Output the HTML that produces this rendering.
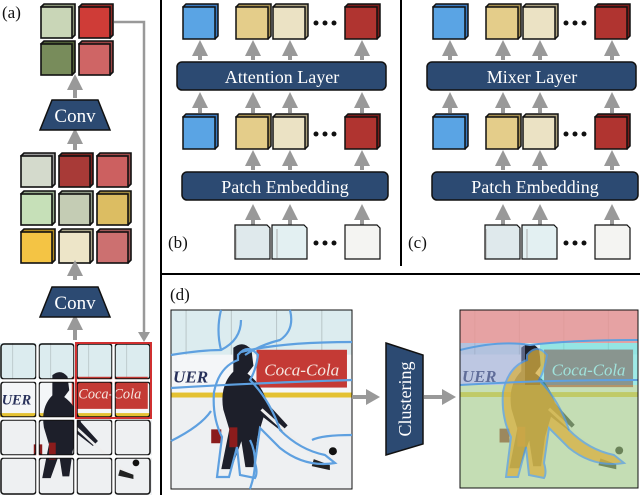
<!DOCTYPE html>
<html><head><style>body{margin:0;background:#fff}svg{display:block}text{font-family:"Liberation Serif",serif}</style></head><body>
<svg width="640" height="495" viewBox="0 0 640 495" xmlns="http://www.w3.org/2000/svg">
<defs>
<marker id="ah" markerWidth="4" markerHeight="4" refX="2" refY="2" orient="auto" markerUnits="strokeWidth"><path d="M0,0 L4,2 L0,4z" fill="#999"/></marker>
<g id="photo">
<rect x="0" y="0" width="180" height="180" fill="#e8f2f4"/>
<rect x="0" y="0" width="180" height="45" fill="#dcecef"/>
<g stroke="#b9c6c8" stroke-width="1"><line x1="15" y1="0" x2="15" y2="45"/><line x1="60" y1="0" x2="60" y2="45"/><line x1="105" y1="0" x2="105" y2="45"/><line x1="150" y1="0" x2="150" y2="45"/></g>
<rect x="0" y="45" width="180" height="40" fill="#f4f6f8"/>
<rect x="85" y="40" width="90" height="38" fill="#c43a35"/>
<text x="130" y="66" font-size="17" font-style="italic" fill="#f5e6e0" text-anchor="middle">Coca-Cola</text>
<text x="2" y="73" font-size="17" font-weight="bold" font-style="italic" fill="#27305a">UER</text>
<rect x="0" y="83" width="180" height="5" fill="#e4c132"/>
<rect x="0" y="88" width="180" height="92" fill="#eef0f2"/>
<path d="M62,38 q10,-8 18,2 l2,16 l-6,8 q14,10 20,30 l20,22 l-6,6 l-18,-14 l-6,20 l-4,30 l-8,0 l-4,-26 l-10,28 l-10,0 l8,-40 l-6,-20 q-4,-24 10,-38z" fill="#1d1f2a"/>
<path d="M40,120 l10,0 l0,14 l-10,0z M58,118 l8,0 l0,20 l-8,0z" fill="#8b1c1c"/>
<line x1="90" y1="100" x2="150" y2="155" stroke="#eee" stroke-width="3"/>
<path d="M142,150 l16,6 l0,5 l-18,-4z" fill="#222"/>
<circle cx="161" cy="142" r="4" fill="#111"/>
</g>
</defs>

<line x1="161" y1="0" x2="161" y2="495" stroke="#000" stroke-width="2"/>
<line x1="401" y1="0" x2="401" y2="266" stroke="#000" stroke-width="2"/>
<line x1="161" y1="274" x2="640" y2="274" stroke="#000" stroke-width="2"/>

<g font-size="17" fill="#111">
<text x="2" y="18">(a)</text>
<text x="168" y="248">(b)</text>
<text x="408" y="248">(c)</text>
<text x="170" y="300">(d)</text>
</g>

<g stroke="#111" stroke-width="1.6">
<g transform="translate(41,4)"><path d="M0,3 l3,-3 h31 v31 l-3,3z" fill="#8a9478"/><rect x="0" y="3" width="31" height="31" fill="#c9d6b7"/></g>
<g transform="translate(79,4)"><path d="M0,3 l3,-3 h31 v31 l-3,3z" fill="#8e2a26"/><rect x="0" y="3" width="31" height="31" fill="#cf3c37"/></g>
<g transform="translate(41,41)"><path d="M0,3 l3,-3 h31 v31 l-3,3z" fill="#4e5e37"/><rect x="0" y="3" width="31" height="31" fill="#788c5b"/></g>
<g transform="translate(79,41)"><path d="M0,3 l3,-3 h31 v31 l-3,3z" fill="#9a4444"/><rect x="0" y="3" width="31" height="31" fill="#cf6565"/></g>
<g transform="translate(21,153)"><path d="M0,3 l3,-3 h31 v31 l-3,3z" fill="#999"/><rect x="0" y="3" width="31" height="31" fill="#d4dacc"/></g>
<g transform="translate(59,153)"><path d="M0,3 l3,-3 h31 v31 l-3,3z" fill="#7a2420"/><rect x="0" y="3" width="31" height="31" fill="#a83a37"/></g>
<g transform="translate(97,153)"><path d="M0,3 l3,-3 h31 v31 l-3,3z" fill="#a04a4a"/><rect x="0" y="3" width="31" height="31" fill="#cc6060"/></g>
<g transform="translate(21,191)"><path d="M0,3 l3,-3 h31 v31 l-3,3z" fill="#94a88a"/><rect x="0" y="3" width="31" height="31" fill="#c6e0b8"/></g>
<g transform="translate(59,191)"><path d="M0,3 l3,-3 h31 v31 l-3,3z" fill="#909a88"/><rect x="0" y="3" width="31" height="31" fill="#c4ccb4"/></g>
<g transform="translate(97,191)"><path d="M0,3 l3,-3 h31 v31 l-3,3z" fill="#a08a40"/><rect x="0" y="3" width="31" height="31" fill="#dcbd62"/></g>
<g transform="translate(21,229)"><path d="M0,3 l3,-3 h31 v31 l-3,3z" fill="#b08a20"/><rect x="0" y="3" width="31" height="31" fill="#f4c444"/></g>
<g transform="translate(59,229)"><path d="M0,3 l3,-3 h31 v31 l-3,3z" fill="#aaa68a"/><rect x="0" y="3" width="31" height="31" fill="#ede5c8"/></g>
<g transform="translate(97,229)"><path d="M0,3 l3,-3 h31 v31 l-3,3z" fill="#a05858"/><rect x="0" y="3" width="31" height="31" fill="#cc7070"/></g>
</g>

<g stroke="#999" stroke-width="4" fill="none">
<line x1="75" y1="98" x2="75" y2="82" marker-end="url(#ah)"/>
<line x1="75" y1="150" x2="75" y2="136" marker-end="url(#ah)"/>
<line x1="75" y1="280" x2="75" y2="268" marker-end="url(#ah)"/>
<line x1="75" y1="340" x2="75" y2="322" marker-end="url(#ah)"/>
</g>
<polyline points="114,22 144,22 144,334" stroke="#999" stroke-width="2.5" fill="none"/>
<path d="M138,332 L150,332 L144,342z" fill="#999"/>
<g fill="#2c4a72" stroke="#111" stroke-width="1.5">
<path d="M52,100 L98,100 L110,130 L40,130z"/>
<path d="M52,287 L98,287 L110,317 L40,317z"/>
</g>
<g font-size="19" fill="#fff" text-anchor="middle"><text x="75" y="122">Conv</text><text x="75" y="309">Conv</text></g>

<svg x="0" y="343" width="152" height="152" viewBox="0 0 180 180" preserveAspectRatio="none"><use href="#photo"/></svg>
<g fill="none" stroke="#111" stroke-width="1.5">
<rect x="1" y="344" width="35" height="35" rx="3"/><rect x="39" y="344" width="35" height="35" rx="3"/><rect x="77" y="344" width="35" height="35" rx="3"/><rect x="115" y="344" width="35" height="35" rx="3"/>
<rect x="1" y="382" width="35" height="35" rx="3"/><rect x="39" y="382" width="35" height="35" rx="3"/><rect x="77" y="382" width="35" height="35" rx="3"/><rect x="115" y="382" width="35" height="35" rx="3"/>
<rect x="1" y="420" width="35" height="35" rx="3"/><rect x="39" y="420" width="35" height="35" rx="3"/><rect x="77" y="420" width="35" height="35" rx="3"/><rect x="115" y="420" width="35" height="35" rx="3"/>
<rect x="1" y="458" width="35" height="36" rx="3"/><rect x="39" y="458" width="35" height="36" rx="3"/><rect x="77" y="458" width="35" height="36" rx="3"/><rect x="115" y="458" width="35" height="36" rx="3"/>
</g>
<g stroke="#fff" stroke-width="2.5"><line x1="37.5" y1="343" x2="37.5" y2="495"/><line x1="75.5" y1="343" x2="75.5" y2="495"/><line x1="113.5" y1="343" x2="113.5" y2="495"/><line x1="0" y1="380.5" x2="152" y2="380.5"/><line x1="0" y1="418.5" x2="152" y2="418.5"/><line x1="0" y1="456.5" x2="152" y2="456.5"/></g>
<rect x="76" y="343" width="75" height="75" fill="none" stroke="#d03030" stroke-width="2"/>

<g id="pb">
<g stroke="#999" stroke-width="4">
<line x1="200" y1="60" x2="200" y2="48" marker-end="url(#ah)"/><line x1="253" y1="60" x2="253" y2="48" marker-end="url(#ah)"/><line x1="290" y1="60" x2="290" y2="48" marker-end="url(#ah)"/><line x1="362" y1="60" x2="362" y2="48" marker-end="url(#ah)"/>
<line x1="200" y1="113" x2="200" y2="100" marker-end="url(#ah)"/><line x1="253" y1="113" x2="253" y2="100" marker-end="url(#ah)"/><line x1="290" y1="113" x2="290" y2="100" marker-end="url(#ah)"/><line x1="362" y1="113" x2="362" y2="100" marker-end="url(#ah)"/>
<line x1="253" y1="170" x2="253" y2="158" marker-end="url(#ah)"/><line x1="290" y1="170" x2="290" y2="158" marker-end="url(#ah)"/><line x1="362" y1="170" x2="362" y2="158" marker-end="url(#ah)"/>
<line x1="253" y1="225" x2="253" y2="212" marker-end="url(#ah)"/><line x1="290" y1="225" x2="290" y2="212" marker-end="url(#ah)"/><line x1="362" y1="225" x2="362" y2="212" marker-end="url(#ah)"/>
</g>
<g stroke="#111" stroke-width="1.5">
<g transform="translate(183,4)"><path d="M0,3 l3,-3 h32 v32 l-3,3z" fill="#3a7ac0"/><rect x="0" y="3" width="32" height="32" fill="#5aa4e4"/></g>
<g transform="translate(236,4)"><path d="M0,3 l3,-3 h32 v32 l-3,3z" fill="#a89050"/><rect x="0" y="3" width="32" height="32" fill="#e4cd8a"/></g>
<g transform="translate(273,4)"><path d="M0,3 l3,-3 h32 v32 l-3,3z" fill="#aaa080"/><rect x="0" y="3" width="32" height="32" fill="#ebe2c4"/></g>
<g transform="translate(345,4)"><path d="M0,3 l3,-3 h32 v32 l-3,3z" fill="#7a1c1a"/><rect x="0" y="3" width="32" height="32" fill="#b03430"/></g>
<g transform="translate(183,114)"><path d="M0,3 l3,-3 h32 v32 l-3,3z" fill="#3a7ac0"/><rect x="0" y="3" width="32" height="32" fill="#5aa4e4"/></g>
<g transform="translate(236,114)"><path d="M0,3 l3,-3 h32 v32 l-3,3z" fill="#a89050"/><rect x="0" y="3" width="32" height="32" fill="#e4cd8a"/></g>
<g transform="translate(273,114)"><path d="M0,3 l3,-3 h32 v32 l-3,3z" fill="#aaa080"/><rect x="0" y="3" width="32" height="32" fill="#ebe2c4"/></g>
<g transform="translate(345,114)"><path d="M0,3 l3,-3 h32 v32 l-3,3z" fill="#7a1c1a"/><rect x="0" y="3" width="32" height="32" fill="#b03430"/></g>
</g>
<g fill="#111"><circle cx="316" cy="23" r="2.5"/><circle cx="325" cy="23" r="2.5"/><circle cx="334" cy="23" r="2.5"/>
<circle cx="316" cy="134" r="2.5"/><circle cx="325" cy="134" r="2.5"/><circle cx="334" cy="134" r="2.5"/>
<circle cx="316" cy="243" r="2.5"/><circle cx="325" cy="243" r="2.5"/><circle cx="334" cy="243" r="2.5"/></g>
<g fill="#2c4a72" stroke="#111" stroke-width="1.5">
<rect x="177" y="62" width="209" height="28" rx="5"/>
<rect x="182" y="172" width="206" height="28" rx="5"/>
</g>
<text x="285" y="193" font-size="18" fill="#fff" text-anchor="middle">Patch Embedding</text>
<g stroke="#111" stroke-width="1.2">
<path d="M235,225 h32 l3,3 v31 h-35z" fill="#dfe9ec"/><path d="M272,225 h32 l3,3 v31 h-35z" fill="#e3f0f2"/><path d="M345,225 h32 l3,3 v31 h-35z" fill="#f4f4f2"/>
</g>
<line x1="236" y1="229" x2="236" y2="258" stroke="#aaa"/><line x1="277" y1="229" x2="277" y2="258" stroke="#aaa"/>
</g>
<text x="282" y="83" font-size="18" fill="#fff" text-anchor="middle">Attention Layer</text>
<use href="#pb" x="250"/>
<text x="532" y="83" font-size="18" fill="#fff" text-anchor="middle">Mixer Layer</text>

<svg x="171" y="310" width="181" height="179" viewBox="0 0 180 180" preserveAspectRatio="none"><use href="#photo"/></svg>
<rect x="171" y="310" width="181" height="179" fill="none" stroke="#111" stroke-width="1"/>
<g fill="none" stroke="#5ea0e0" stroke-width="2.2">
<path d="M171,355 q30,-5 50,-5 q20,-10 20,-30 M221,350 q-5,-20 0,-40 M290,310 q5,20 -10,30 q-20,5 -35,15 M241,352 q40,-10 111,-10 M171,441 q30,-15 40,-30 M352,435 q-30,0 -40,5 M171,388 q80,-5 181,-8 M250,440 q10,20 0,49"/>
<path d="M238,355 q10,-12 20,0 q-2,15 -8,25 q20,20 30,50 q20,20 45,25 l10,8 q-30,5 -55,-15 q-10,-10 -20,-20 l-5,35 q3,10 0,15 l-15,-3 l-3,-28 l-8,30 l-12,0 l5,-40 q-10,-20 -8,-45 q5,-25 24,-32z"/>
</g>
<path d="M352,397 h20" stroke="#999" stroke-width="4"/>
<path d="M366,389 L380,397 L366,405z" fill="#999"/>
<path d="M386,343 L423,355 L423,444 L386,455z" fill="#2c4a72" stroke="#111" stroke-width="1.5"/>
<text transform="translate(411,399) rotate(-90)" font-size="18" fill="#fff" text-anchor="middle">Clustering</text>
<path d="M424,397 h20" stroke="#999" stroke-width="4"/>
<path d="M442,389 L456,397 L442,405z" fill="#999"/>

<svg x="460" y="310" width="178" height="178" viewBox="0 0 180 180" preserveAspectRatio="none"><use href="#photo"/></svg>
<rect x="460" y="310" width="178" height="33" fill="#e89090" opacity="0.8"/>
<rect x="460" y="343" width="65" height="42" fill="#8fa0d0" opacity="0.55"/>
<rect x="540" y="343" width="98" height="42" fill="#5ae0d8" opacity="0.55"/>
<rect x="460" y="385" width="178" height="103" fill="#a8d08a" opacity="0.6"/>
<path d="M527,355 q10,-12 20,0 q-2,15 -8,25 q20,20 30,50 q20,20 45,25 l10,8 q-30,5 -55,-15 q-10,-10 -20,-20 l-5,35 q3,10 0,15 l-15,-3 l-3,-28 l-8,30 l-12,0 l5,-40 q-10,-20 -8,-45 q5,-25 24,-32z" fill="#d8b040" opacity="0.75" stroke="#5ea0e0" stroke-width="2"/>
<path d="M460,350 q40,-10 70,-5 q40,-5 108,-5 M460,385 q80,-5 178,-5" fill="none" stroke="#5ea0e0" stroke-width="2"/>
<rect x="460" y="310" width="178" height="178" fill="none" stroke="#111" stroke-width="1"/>
</svg>
</body></html>
